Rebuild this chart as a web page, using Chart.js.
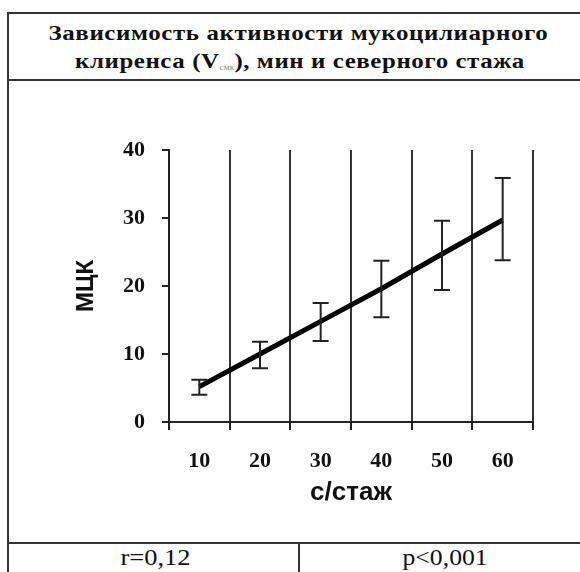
<!DOCTYPE html>
<html>
<head>
<meta charset="utf-8">
<script src="https://cdn.jsdelivr.net/npm/chart.js@4.4.0/dist/chart.umd.min.js"></script>
<style>
  html, body { margin: 0; padding: 0; background: #fff; overflow: hidden; }
  body { width: 580px; height: 572px; position: relative; }
  #frame { position: absolute; left: 7px; top: 12px; width: 700px; height: 700px;
           border-left: 2px solid #333; border-top: 2px solid #333; box-sizing: border-box; }
  .hline { position: absolute; left: 7px; width: 600px; height: 2px; background: #333; }
  .vline { position: absolute; width: 2px; background: #333; }
  .t { position: absolute; white-space: nowrap; font-family: "Liberation Serif", "Times New Roman", serif;
       transform-origin: center center; color: #111; }
  .title { font-weight: bold; font-size: 21px; letter-spacing: 0.5px; }
  .title sub { font-size: 8px; color: #888; font-weight: normal; letter-spacing: 0; vertical-align: -2px; }
  .stat { font-size: 23px; }
  #c { position: absolute; left: 0; top: 0; }
</style>
</head>
<body>
<div id="frame"></div>
<div class="hline" style="top:79px"></div>
<div class="hline" style="top:542px"></div>
<div class="vline" style="left:298px; top:543px; height:40px"></div>

<div class="t title" id="tl1" data-cx="298" data-cy="33" data-w="500">Зависимость активности мукоцилиарного</div>
<div class="t title" id="tl2" data-cx="300" data-cy="61" data-w="450">клиренса (V<sub>смк</sub>), мин и северного стажа</div>
<div class="t stat" id="s1" data-cx="155" data-cy="558" data-w="70">r=0,12</div>
<div class="t stat" id="s2" data-cx="445" data-cy="558" data-w="85">p&lt;0,001</div>

<canvas id="c" width="580" height="572"></canvas>

<script>
// ---- data ----
const categories = ['10', '20', '30', '40', '50', '60'];
const meanValues = [5.2, 10, 14.8, 19.6, 24.7, 29.7];
const lowValues  = [4.0, 7.9, 11.9, 15.4, 19.4, 23.8];
const highValues = [6.2, 11.8, 17.5, 23.7, 29.6, 35.9];
const yTicks = [0, 10, 20, 30, 40];
const xTitle = 'с/стаж';
const yTitle = 'МЦК';

// fit HTML texts to target widths
document.querySelectorAll('.t').forEach(el => {
  const w = el.offsetWidth, h = el.offsetHeight;
  const cx = +el.dataset.cx, cy = +el.dataset.cy, tw = +el.dataset.w;
  el.style.left = (cx - w / 2) + 'px';
  el.style.top = (cy - h / 2) + 'px';
  el.style.transform = 'scaleX(' + (tw / w) + ')';
});

const errorBars = {
  id: 'errorBars',
  afterDatasetsDraw(chart) {
    const { ctx, scales: { x, y } } = chart;
    ctx.save();
    ctx.strokeStyle = '#222';
    ctx.lineWidth = 2;
    for (let i = 0; i < categories.length; i++) {
      const px = x.getPixelForValue(i);
      const yl = y.getPixelForValue(lowValues[i]);
      const yh = y.getPixelForValue(highValues[i]);
      ctx.beginPath();
      ctx.moveTo(px, yl); ctx.lineTo(px, yh);
      ctx.moveTo(px - 8, yl); ctx.lineTo(px + 8, yl);
      ctx.moveTo(px - 8, yh); ctx.lineTo(px + 8, yh);
      ctx.stroke();
    }
    ctx.restore();
  }
};

new Chart(document.getElementById('c'), {
  type: 'line',
  data: {
    labels: categories,
    datasets: [{
      data: meanValues,
      borderColor: '#000',
      borderWidth: 5,
      pointRadius: 0,
      tension: 0,
      fill: false
    }]
  },
  options: {
    responsive: false,
    animation: false,
    events: [],
    layout: { padding: { left: 0, right: 47, top: 150, bottom: 60 } },
    plugins: { legend: { display: false }, tooltip: { enabled: false } },
    scales: {
      x: {
        type: 'category',
        offset: true,
        afterFit(s) { s.height = 90; },
        grid: {
          offset: true,
          color: ctx => (ctx.index === 0 || ctx.index === categories.length) ? 'rgba(0,0,0,0)' : '#333',
          tickColor: '#222',
          lineWidth: 2,
          tickLength: 8,
          drawTicks: true
        },
        border: { display: true, color: '#222', width: 2 },
        ticks: {
          color: '#111',
          font: { family: '"Liberation Serif", "Times New Roman", serif', size: 22, weight: 'bold' },
          padding: 18,
          maxRotation: 0
        },
        title: {
          display: true, text: xTitle, color: '#111',
          font: { family: '"Liberation Sans", Arial, sans-serif', size: 26, weight: 'bold' },
          padding: { top: 0, bottom: 4 }
        }
      },
      y: {
        min: 0, max: 40,
        afterFit(s) { s.width = 169; },
        afterBuildTicks(s) { s.ticks = yTicks.map(v => ({ value: v })); },
        grid: { drawOnChartArea: false, drawTicks: true, tickLength: 7, tickColor: '#222', lineWidth: 2 },
        border: { display: true, color: '#222', width: 2 },
        ticks: {
          color: '#111',
          font: { family: '"Liberation Serif", "Times New Roman", serif', size: 22, weight: 'bold' },
          padding: 17
        },
        title: {
          display: true, text: yTitle, color: '#111',
          font: { family: '"Liberation Sans", Arial, sans-serif', size: 24, weight: 'bold' },
          padding: { top: 72, bottom: 0 }
        }
      }
    }
  },
  plugins: [errorBars]
});
</script>
</body>
</html>
